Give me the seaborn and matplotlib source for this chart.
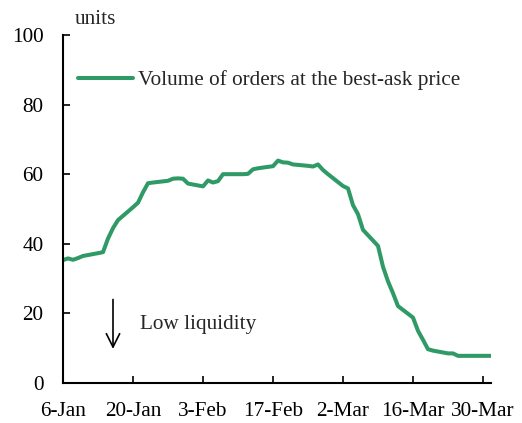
import pandas as pd
import seaborn as sns
import matplotlib.pyplot as plt
import matplotlib.dates as mdates

# Dados (dias úteis de 2020)
dates = pd.bdate_range('2020-01-06', '2020-04-01')
volume = [35.3, 35.8, 35.4, 35.9, 36.5,
          37.3, 37.6, 41.5, 44.5, 46.8,
          50.5, 51.8, 54.8, 57.4, 57.6,
          58.1, 58.7, 58.8, 58.7, 57.3,
          56.5, 58.2, 57.6, 58.0, 60.0,
          60.0, 60.0, 60.1, 61.4, 61.7,
          62.3, 63.9, 63.4, 63.3, 62.8,
          62.4, 62.2, 62.8, 61.2, 60.0,
          56.6, 55.9, 51.1, 48.5, 44.0,
          39.4, 33.4, 29.2, 25.8, 22.1,
          18.8, 15.0, 12.4, 9.7, 9.3,
          8.5, 8.5, 7.8, 7.8, 7.8,
          7.8, 7.8, 7.8]
tick_dates = pd.date_range('2020-01-06', periods=7, freq='14D')
y_ticks = [0, 20, 40, 60, 80, 100]

df = pd.DataFrame({'date': dates, 'volume': volume})

sns.set_style('ticks')
plt.rcParams['font.family'] = ['Liberation Serif', 'DejaVu Serif']
fs = 15.3

fig = plt.figure(figsize=(5.22, 4.23), dpi=100)
ax = fig.add_axes([0.1207, 0.0946, 0.8199, 0.8227])

sns.lineplot(x='date', y='volume', data=df, color='#2f9a66', linewidth=2.9,
             label='Volume of orders at the best-ask price', ax=ax)

ax.set_ylim(0, 100)
ax.set_xlim(pd.Timestamp('2020-01-06'), pd.Timestamp('2020-01-06') + pd.Timedelta(days=85.6))
ax.set_yticks(y_ticks)
ax.set_xticks(tick_dates)
ax.xaxis.set_major_formatter(mdates.DateFormatter('%-d-%b'))
ax.tick_params(direction='in', length=5, width=1.2, labelsize=fs, colors='black')
ax.tick_params(axis='x', pad=14)
ax.tick_params(axis='y', pad=14)
for s in ['top', 'right']:
    ax.spines[s].set_visible(False)
for s in ['left', 'bottom']:
    ax.spines[s].set_linewidth(1.5)
    ax.spines[s].set_color('black')
ax.set_xlabel('')
ax.set_ylabel('')

# Rótulo de unidade
fig.text(75 / 522, 1 - 19 / 423, 'units', fontsize=fs, va='center', ha='left')

# Legenda
ax.legend(loc='upper left', bbox_to_anchor=(0.005, 0.935), frameon=False, fontsize=fs,
          handlelength=2.6, handletextpad=0.25, borderaxespad=0.2)

# Seta de baixa liquidez
ax.annotate('', xy=(pd.Timestamp('2020-01-16'), 9.0), xytext=(pd.Timestamp('2020-01-16'), 24.8),
            arrowprops=dict(arrowstyle='->', color='black', lw=1.2, mutation_scale=24))
ax.text(pd.Timestamp('2020-01-21T10:00'), 16.8, 'Low liquidity', fontsize=fs, va='center', ha='left')

plt.savefig('out.png', dpi=100)
